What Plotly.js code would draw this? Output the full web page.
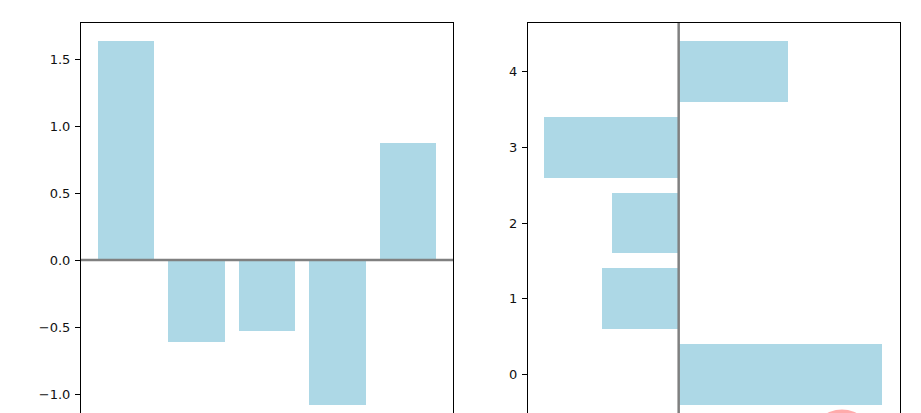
<!DOCTYPE html>
<html>
<head>
<meta charset="utf-8">
<script src="https://cdn.plot.ly/plotly-3.0.1.min.js"></script>
<style>
html, body { margin:0; padding:0; overflow:hidden; background:#fff; width:921px; height:413px; }
#chart { width:921px; height:470px; }
</style>
</head>
<body>
<div id="chart"></div>
<script>
// Data
const categories = [0, 1, 2, 3, 4];
const values = [1.633, -0.614, -0.532, -1.08, 0.875];
const leftYTicks = [-1.0, -0.5, 0.0, 0.5, 1.0, 1.5];
const rightYTicks = [0, 1, 2, 3, 4];
const markerX = [1.31];
const markerY = [-0.87];

const barColor = '#ADD8E6';
const tickFont = {family: 'DejaVu Sans, sans-serif', size: 13, color: '#111'};

const traces = [
  {type: 'bar', x: categories, y: values, width: 0.8, marker: {color: barColor, line: {width: 0}},
   xaxis: 'x', yaxis: 'y', hoverinfo: 'none'},
  {type: 'bar', orientation: 'h', y: categories, x: values, width: 0.8, marker: {color: barColor, line: {width: 0}},
   xaxis: 'x2', yaxis: 'y2', hoverinfo: 'none'},
  {type: 'scatter', mode: 'markers', x: markerX, y: markerY, xaxis: 'x2', yaxis: 'y2', cliponaxis: true,
   marker: {size: 62, color: 'rgba(255,150,150,0.8)', line: {width: 0}}, hoverinfo: 'none'}
];

const axBase = {
  showline: true, mirror: true, linecolor: '#000', linewidth: 1,
  showgrid: false, ticks: 'outside', ticklen: 5, tickwidth: 1, tickcolor: '#000',
  tickfont: tickFont, fixedrange: true, layer: 'above traces', zeroline: false
};

const layout = {
  width: 921, height: 470,
  margin: {l: 0, r: 0, t: 23, b: 47},
  paper_bgcolor: '#fff', plot_bgcolor: '#fff',
  showlegend: false, bargap: 0,
  xaxis: Object.assign({}, axBase, {domain: [81/921, 453/921], range: [-0.64, 4.64],
    tickvals: categories}),
  yaxis: Object.assign({}, axBase, {range: [-1.216, 1.769], tickvals: leftYTicks, tickformat: '.1f',
    ticklabelstandoff: 2}),
  xaxis2: Object.assign({}, axBase, {domain: [528/921, 900/921], range: [-1.209, 1.776], anchor: 'y2'}),
  yaxis2: Object.assign({}, axBase, {range: [-0.64, 4.64], anchor: 'x2', tickvals: rightYTicks,
    ticklabelstandoff: 2}),
  shapes: [
    {type: 'line', layer: 'above', xref: 'x domain', yref: 'y', x0: 0, x1: 1, y0: 0, y1: 0,
     line: {color: '#808080', width: 2.5}},
    {type: 'line', layer: 'above', xref: 'x2', yref: 'y2 domain', x0: 0, x1: 0, y0: 0, y1: 1,
     line: {color: '#808080', width: 2.5}}
  ]
};

Plotly.newPlot('chart', traces, layout, {displayModeBar: false, staticPlot: true});
</script>
</body>
</html>
